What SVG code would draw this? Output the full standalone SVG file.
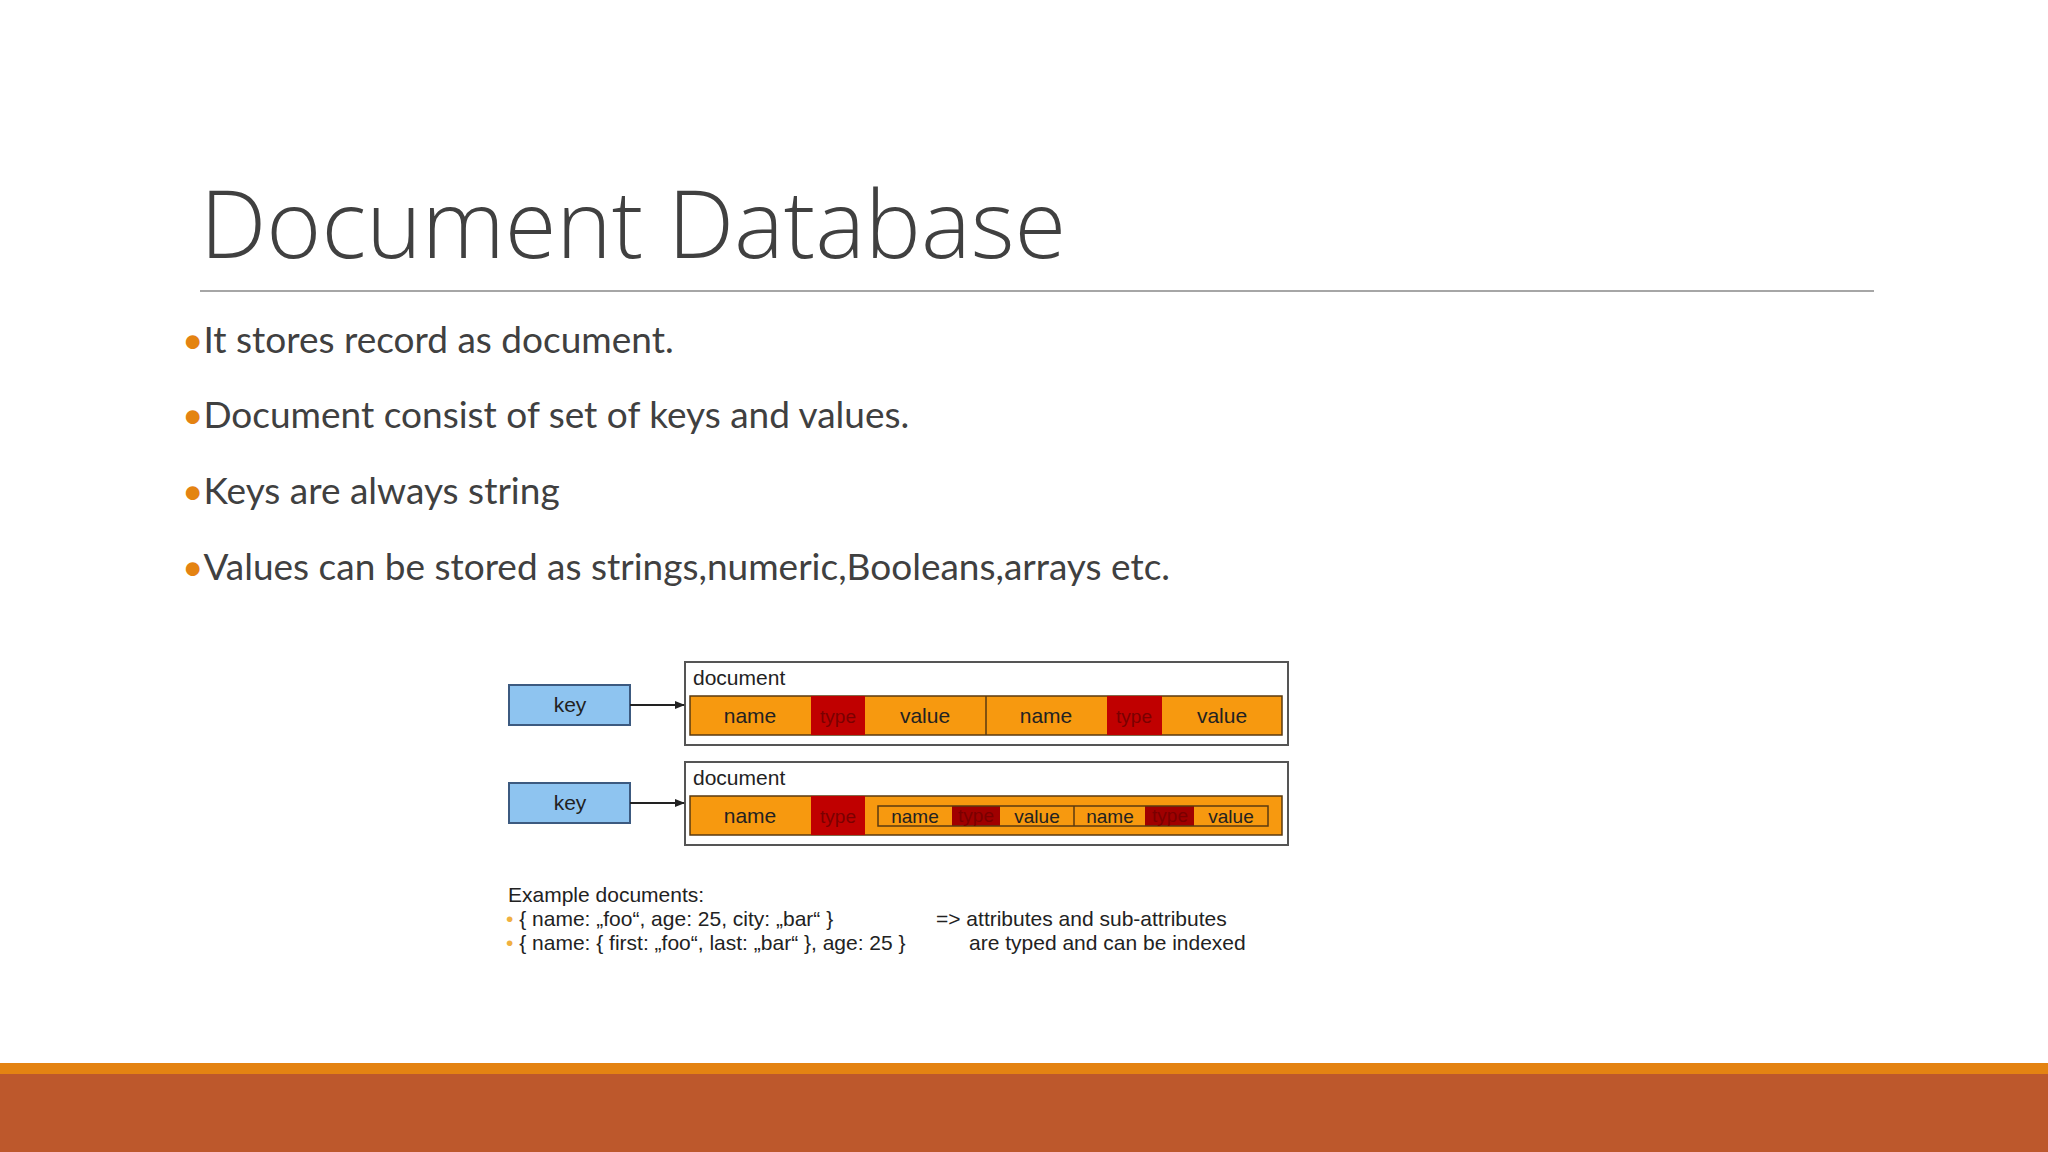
<svg xmlns="http://www.w3.org/2000/svg" width="2048" height="1152" viewBox="0 0 2048 1152">
<style>
.t{font-family:Lato,"Liberation Sans",sans-serif;font-size:37px;fill:#404040}
.b{fill:#E48312}
.d{font-family:"Liberation Sans",Arial,sans-serif;font-size:21px;fill:#222}
.c{font-family:"Liberation Sans",Arial,sans-serif;font-size:21px;fill:#222;text-anchor:middle}
.ci{font-family:"Liberation Sans",Arial,sans-serif;font-size:19px;fill:#222;text-anchor:middle}
.ty{fill:#7a0000;font-family:"Liberation Sans",Arial,sans-serif;font-size:19px;text-anchor:middle}
.key{fill:#8EC4F0;stroke:#3C5A80;stroke-width:2}
.doc{fill:#fff;stroke:#555;stroke-width:2}
.or{fill:#F7990F;stroke:#5a3a10;stroke-width:1.5}
.rd{fill:#C00000}
.ln{stroke:#5a3a10;stroke-width:1.5;fill:none}
</style>
<defs><marker id="ah" markerWidth="10" markerHeight="10" refX="9" refY="5" orient="auto" markerUnits="userSpaceOnUse"><path d="M0,1 L10,5 L0,9 Z" fill="#222"/></marker></defs>
<rect width="2048" height="1152" fill="#fff"/>
<text x="200" y="258" font-family="'Open Sans',Lato,sans-serif" font-weight="300" font-size="94" fill="#404040">Document Database</text>
<line x1="200" y1="291" x2="1874" y2="291" stroke="#a6a6a6" stroke-width="2"/>
<text x="182" y="353" class="t"><tspan class="b">•</tspan>It stores record as document.</text>
<text x="182" y="428" class="t"><tspan class="b">•</tspan>Document consist of set of keys and values.</text>
<text x="182" y="504" class="t"><tspan class="b">•</tspan>Keys are always string</text>
<text x="182" y="580" class="t"><tspan class="b">•</tspan>Values can be stored as strings,numeric,Booleans,arrays etc.</text>
<g id="key1"><rect x="509" y="685" width="121" height="40" class="key"/><text x="570" y="712" class="c">key</text></g>
<g id="key2"><rect x="509" y="783" width="121" height="40" class="key"/><text x="570" y="810" class="c">key</text></g>
<g id="doc1">
<rect x="685" y="662" width="603" height="83" class="doc"/>
<text x="693" y="685" class="d">document</text>
<rect x="690" y="696" width="592" height="39" class="or"/>
<rect x="811" y="696" width="54" height="39" class="rd"/>
<rect x="1107" y="696" width="55" height="39" class="rd"/>
<path d="M986,696V735" class="ln"/>
<text x="750" y="723" class="c">name</text><text x="838" y="723" class="ty">type</text><text x="925" y="723" class="c">value</text>
<text x="1046" y="723" class="c">name</text><text x="1134" y="723" class="ty">type</text><text x="1222" y="723" class="c">value</text>
</g>
<g id="doc2">
<rect x="685" y="762" width="603" height="83" class="doc"/>
<text x="693" y="785" class="d">document</text>
<rect x="690" y="796" width="592" height="39" class="or"/>
<rect x="811" y="796" width="54" height="39" class="rd"/>
<rect x="952" y="806" width="48" height="20" fill="#A00000"/>
<rect x="1145" y="806" width="49" height="20" fill="#A00000"/>
<rect x="878" y="806" width="390" height="20" class="ln"/>
<path d="M1074,806V826" class="ln"/>
<text x="750" y="823" class="c">name</text><text x="838" y="823" class="ty">type</text>
<text x="915" y="823" class="ci">name</text><text x="976" y="822" class="ty" font-size="16">type</text><text x="1037" y="823" class="ci">value</text>
<text x="1110" y="823" class="ci">name</text><text x="1170" y="822" class="ty" font-size="16">type</text><text x="1231" y="823" class="ci">value</text>
</g>
<g id="connectors">
<line x1="630" y1="705" x2="684" y2="705" stroke="#222" stroke-width="2" marker-end="url(#ah)"/>
<line x1="630" y1="803" x2="684" y2="803" stroke="#222" stroke-width="2" marker-end="url(#ah)"/>
</g>
<g id="examples">
<text x="508" y="902" class="d">Example documents:</text>
<text x="506" y="926" class="d"><tspan fill="#F0B040">•</tspan> { name: „foo“, age: 25, city: „bar“ }</text>
<text x="506" y="950" class="d"><tspan fill="#F0B040">•</tspan> { name: { first: „foo“, last: „bar“ }, age: 25 }</text>
<text x="936" y="926" class="d">=&gt; attributes and sub-attributes</text>
<text x="969" y="950" class="d">are typed and can be indexed</text>
</g>
<rect x="0" y="1063" width="2048" height="11" fill="#E48312"/>
<rect x="0" y="1074" width="2048" height="78" fill="#BD582C"/>
</svg>
